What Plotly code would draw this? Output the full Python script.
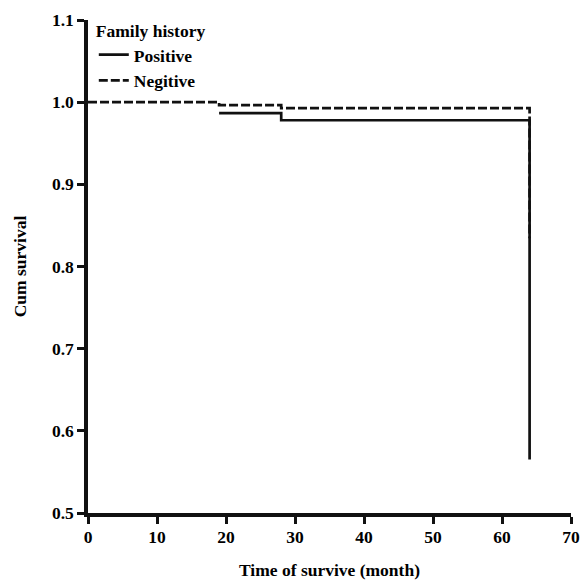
import plotly.graph_objects as go

# Kaplan-Meier step data
pos_time = [19, 28, 64]
pos_surv = [0.9866, 0.978, 0.565]
neg_time = [0, 19, 28, 64]
neg_surv = [1.0, 0.9964, 0.9927, 0.8345]

x_ticks = [0, 10, 20, 30, 40, 50, 60, 70]
y_ticks = [0.5, 0.6, 0.7, 0.8, 0.9, 1.0, 1.1]
y_labels = ["0.5", "0.6", "0.7", "0.8", "0.9", "1.0", "1.1"]

col = "#111111"
font = "Liberation Serif"
fs = 17.5

fig = go.Figure()
fig.add_trace(go.Scatter(x=pos_time, y=pos_surv, mode="lines", name="<b>Positive</b>",
                         line=dict(color=col, width=2.7, shape="hv")))
fig.add_trace(go.Scatter(x=neg_time, y=neg_surv, mode="lines", name="<b>Negitive</b>",
                         line=dict(color=col, width=2.7, shape="hv", dash="9px,3px")))

fig.update_layout(
    width=582, height=588,
    margin=dict(l=88, r=11, t=20, b=75),
    paper_bgcolor="white", plot_bgcolor="white",
    font=dict(family=font, color="black", size=fs),
    showlegend=True,
    legend=dict(
        title=dict(text="<b>Family history</b>", font=dict(family=font, size=fs)),
        x=0.012, y=1.012, xanchor="left", yanchor="top",
        bgcolor="rgba(0,0,0,0)", font=dict(family=font, size=fs),
        tracegroupgap=0, itemwidth=30,
    ),
)
fig.update_xaxes(
    range=[0, 70], tickvals=x_ticks, ticktext=[f"<b>{v}</b>" for v in x_ticks],
    showline=True, linecolor=col, linewidth=3.5, showgrid=False, zeroline=False,
    ticks="outside", ticklen=7, tickwidth=3, tickcolor=col,
    tickfont=dict(family=font, size=fs), automargin=False, ticklabelstandoff=-2,
    title=dict(text="<b>Time of survive (month)</b>", font=dict(family=font, size=fs), standoff=19),
)
fig.update_yaxes(
    range=[0.5, 1.1], tickvals=y_ticks, ticktext=[f"<b>{t}</b>" for t in y_labels],
    showline=True, linecolor=col, linewidth=3.5, showgrid=False, zeroline=False,
    ticks="outside", ticklen=7, tickwidth=3, tickcolor=col,
    tickfont=dict(family=font, size=fs), automargin=False,
    title=dict(text="<b>Cum survival</b>", font=dict(family=font, size=fs), standoff=22),
)

fig.write_html("out.html", config={"displayModeBar": False},
               post_script="document.body.style.margin='0';")
